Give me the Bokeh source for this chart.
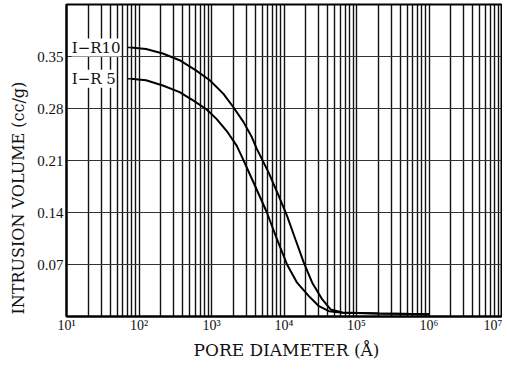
from bokeh.plotting import figure
from bokeh.models import Range1d, FixedTicker, Label, Title
from bokeh.embed import file_html
from bokeh.resources import INLINE

# ---- data ----
r10_d = [77, 125, 213, 363, 617, 946, 1452, 1995, 2754, 3597, 4217, 6124, 8433,
         11015, 14355, 18750, 24490, 33730, 43950, 63970, 199500, 1000000]
r10_v = [0.362, 0.360, 0.354, 0.345, 0.331, 0.318, 0.300, 0.282, 0.262, 0.2415,
         0.2257, 0.194, 0.1626, 0.1355, 0.104, 0.0725, 0.0455, 0.023, 0.0095,
         0.0055, 0.004, 0.003]

r5_d = [77, 125, 213, 363, 557, 851, 1172, 1614, 2223, 2612, 3981, 5808, 8000,
        11015, 15136, 22030, 30340, 41690, 63970, 199500, 1000000]
r5_v = [0.320, 0.318, 0.311, 0.302, 0.291, 0.279, 0.266, 0.250, 0.230, 0.2155,
        0.176, 0.140, 0.104, 0.070, 0.0455, 0.0274, 0.0139, 0.0072, 0.0052,
        0.004, 0.003]

series_names = ["I\u2212R10", "I\u2212R 5"]

x_ticks = [10, 100, 1000, 10000, 100000, 1000000, 10000000]
x_tick_labels = ["10\u00b9", "10\u00b2", "10\u00b3", "10\u2074", "10\u2075", "10\u2076", "10\u2077"]
y_ticks = [0.07, 0.14, 0.21, 0.28, 0.35]
y_tick_labels = ["0.07", "0.14", "0.21", "0.28", "0.35"]
x_title = "PORE DIAMETER (\u00c5)"
y_title = "INTRUSION VOLUME (cc/g)"

x_grid = [m * 10 ** k for k in range(1, 7) for m in range(1, 10)] + [10 ** 7]

SERIF = "DejaVu Serif"
TICKF = "Liberation Serif"

p = figure(frame_width=435, frame_height=312, x_axis_type="log",
           x_range=Range1d(10, 1e7), y_range=Range1d(0, 0.42),
           output_backend="svg", toolbar_location=None,
           min_border_left=66, min_border_right=1, min_border_top=4,
           min_border_bottom=40)

p.background_fill_color = "white"
p.border_fill_color = "white"
p.outline_line_color = "black"
p.outline_line_width = 2

# grids
p.xgrid.ticker = FixedTicker(ticks=x_grid)
p.xgrid.grid_line_color = "#111111"
p.xgrid.grid_line_width = 1.4
p.ygrid.ticker = FixedTicker(ticks=y_ticks)
p.ygrid.grid_line_color = "#333333"
p.ygrid.grid_line_width = 1.1

# axes
p.xaxis.ticker = FixedTicker(ticks=x_ticks)
p.xaxis.major_label_overrides = {t: l for t, l in zip(x_ticks, x_tick_labels)}
p.yaxis.ticker = FixedTicker(ticks=y_ticks)
p.yaxis.major_label_overrides = {t: l for t, l in zip(y_ticks, y_tick_labels)}
for ax in (p.xaxis, p.yaxis):
    ax.major_tick_line_color = None
    ax.minor_tick_line_color = None
    ax.major_tick_out = 0
    ax.major_tick_in = 0
    ax.minor_tick_out = 0
    ax.minor_tick_in = 0
    ax.axis_line_color = "black"
    ax.axis_line_width = 2
    ax.major_label_text_font = TICKF
    ax.major_label_text_color = "#111111"
p.xaxis.major_label_text_font_size = "14px"
p.yaxis.major_label_text_font_size = "15px"
p.xaxis.major_label_standoff = 1
p.yaxis.major_label_standoff = 3

p.add_layout(Title(text=y_title, align="left", offset=2, standoff=13,
                   text_font=SERIF, text_font_size="16px", text_font_style="normal",
                   text_color="#111111"), "left")
p.add_layout(Title(text=x_title, align="left", offset=127, standoff=4,
                   text_font=SERIF, text_font_size="17px", text_font_style="normal",
                   text_color="#111111"), "below")

# curves
p.line(r10_d, r10_v, line_color="black", line_width=2)
p.line(r5_d, r5_v, line_color="black", line_width=2)

# labels with leader dashes
for name, d, v in ((series_names[0], r10_d, r10_v), (series_names[1], r5_d, r5_v)):
    p.segment(x0=[d[0] * 0.9], y0=[v[0]], x1=[d[0]], y1=[v[0]], line_color="black", line_width=1.5)
    p.add_layout(Label(x=11.8, y=v[0], text=name, text_font=SERIF, text_font_size="15px",
                       text_baseline="middle", text_align="left", text_color="#111111",
                       background_fill_color="white", background_fill_alpha=1.0))

html = file_html(p, INLINE)
open("out.html", "w").write(html)
